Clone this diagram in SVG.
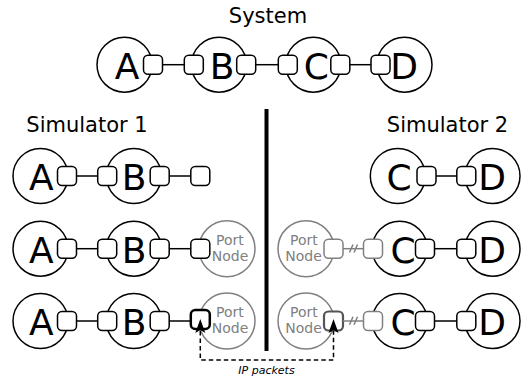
<svg xmlns="http://www.w3.org/2000/svg" width="522" height="379" viewBox="0 0 522 379">
<style>
text{font-family:"DejaVu Sans","Liberation Sans",sans-serif;}
.title{font-size:21px;fill:#000;text-anchor:middle;}
.node{fill:#fff;stroke:#000;stroke-width:1.5;}
.let{font-size:36px;fill:#000;text-anchor:middle;}
.pn{fill:#fff;stroke:#808080;stroke-width:1.5;}
.pnt{font-size:14px;fill:#808080;text-anchor:middle;}
.port{fill:#fff;stroke:#000;stroke-width:1.5;}
.gport{fill:#fff;stroke:#808080;stroke-width:1.5;}
.sel{fill:#fff;stroke:#000;stroke-width:2.5;}
.dsel{fill:#fff;stroke:#555;stroke-width:2.2;}
.w{stroke:#000;stroke-width:1.5;fill:none;}
.gw{stroke:#808080;stroke-width:1.5;fill:none;}
.dash{stroke:#000;stroke-width:1.5;fill:none;stroke-dasharray:4.5,3;}
.lbl{font-size:11px;font-style:italic;fill:#000;text-anchor:middle;}
</style>
<defs>
<rect id="p" x="-9.5" y="-9.5" width="19" height="19" rx="4.5"/>
<marker id="ah" viewBox="-1 -6 16 12" refX="2" refY="0" markerWidth="16" markerHeight="12" markerUnits="userSpaceOnUse" orient="auto-start-reverse">
<path d="M0,-5 L14,0 L0,5 L3,0 Z" fill="#000"/>
</marker>
</defs>

<text class="title" x="268" y="23">System</text>
<text class="title" x="87" y="132">Simulator 1</text>
<text class="title" x="447.5" y="132">Simulator 2</text>

<line x1="266.5" y1="109" x2="266.5" y2="351" stroke="#000" stroke-width="4"/>

<!-- System row -->
<g id="sys-A"><circle class="node" cx="124.5" cy="64.7" r="27.5"/><text class="let" x="127" y="79">A</text><use href="#p" class="port" x="153" y="64.7"/></g>
<g id="sys-B"><circle class="node" cx="219" cy="64.7" r="27.5"/><text class="let" x="222" y="79">B</text><use href="#p" class="port" x="193.8" y="64.7"/><use href="#p" class="port" x="246.2" y="64.7"/></g>
<g id="sys-C"><circle class="node" cx="313.3" cy="64.7" r="27.5"/><text class="let" x="316.3" y="79">C</text><use href="#p" class="port" x="287.8" y="64.7"/><use href="#p" class="port" x="340.3" y="64.7"/></g>
<g id="sys-D"><circle class="node" cx="404.5" cy="64.7" r="27.5"/><text class="let" x="404" y="79">D</text><use href="#p" class="port" x="380.5" y="64.7"/></g>

<!-- Simulator 1 row 1 -->
<g id="s1r1-A"><circle class="node" cx="40.5" cy="176" r="27.5"/><text class="let" x="41.3" y="190.3">A</text><use href="#p" class="port" x="67" y="176"/></g>
<g id="s1r1-B"><circle class="node" cx="133.8" cy="176" r="27.5"/><text class="let" x="134" y="190.3">B</text><use href="#p" class="port" x="107.2" y="176"/><use href="#p" class="port" x="159.7" y="176"/></g>
<g id="s1r1-port"><use href="#p" class="port" x="200.3" y="176"/></g>

<!-- Simulator 1 row 2 -->
<g id="s1r2-A"><circle class="node" cx="40.5" cy="248.7" r="27.5"/><text class="let" x="41.3" y="263">A</text><use href="#p" class="port" x="67" y="248.7"/></g>
<g id="s1r2-B"><circle class="node" cx="133.8" cy="248.7" r="27.5"/><text class="let" x="134" y="263">B</text><use href="#p" class="port" x="107.2" y="248.7"/><use href="#p" class="port" x="159.7" y="248.7"/></g>
<g id="s1r2-portnode"><circle class="pn" cx="227" cy="248.7" r="28"/><text class="pnt" x="230" y="245">Port</text><text class="pnt" x="230" y="260.5">Node</text><use href="#p" class="port" x="200.3" y="248.7"/></g>

<!-- Simulator 1 row 3 -->
<g id="s1r3-A"><circle class="node" cx="40.5" cy="321" r="27.5"/><text class="let" x="41.3" y="335.3">A</text><use href="#p" class="port" x="67" y="321"/></g>
<g id="s1r3-B"><circle class="node" cx="133.8" cy="321" r="27.5"/><text class="let" x="134" y="335.3">B</text><use href="#p" class="port" x="107.2" y="321"/><use href="#p" class="port" x="159.7" y="321"/></g>
<g id="s1r3-portnode"><circle class="pn" cx="227" cy="321" r="28"/><text class="pnt" x="230" y="317.3">Port</text><text class="pnt" x="230" y="332.8">Node</text><use href="#p" class="sel" x="200.3" y="319.5"/></g>

<!-- Simulator 2 row 1 -->
<g id="s2r1-C"><circle class="node" cx="397.8" cy="176" r="27.5"/><text class="let" x="399" y="190.3">C</text><use href="#p" class="port" x="426.5" y="176"/></g>
<g id="s2r1-D"><circle class="node" cx="492.5" cy="176" r="27.5"/><text class="let" x="492" y="190.3">D</text><use href="#p" class="port" x="466.3" y="176"/></g>

<!-- Simulator 2 row 2 -->
<g id="s2r2-portnode"><circle class="pn" cx="306" cy="248.7" r="28"/><text class="pnt" x="304" y="245">Port</text><text class="pnt" x="303.5" y="260.5">Node</text><use href="#p" class="gport" x="333.5" y="248.7"/></g>
<g id="s2r2-C"><circle class="node" cx="399.7" cy="248.7" r="27.5"/><use href="#p" class="gport" x="373" y="248.7"/><text class="let" x="403" y="263">C</text><use href="#p" class="port" x="425" y="248.7"/></g>
<g id="s2r2-D"><circle class="node" cx="492.5" cy="248.7" r="27.5"/><text class="let" x="492" y="263">D</text><use href="#p" class="port" x="466.3" y="248.7"/></g>

<!-- Simulator 2 row 3 -->
<g id="s2r3-portnode"><circle class="pn" cx="306" cy="321" r="28"/><text class="pnt" x="304" y="317.3">Port</text><text class="pnt" x="303.5" y="332.8">Node</text><use href="#p" class="dsel" x="333.5" y="321"/></g>
<g id="s2r3-C"><circle class="node" cx="399.7" cy="321" r="27.5"/><use href="#p" class="gport" x="373" y="321"/><text class="let" x="403" y="335.3">C</text><use href="#p" class="port" x="425" y="321"/></g>
<g id="s2r3-D"><circle class="node" cx="492.5" cy="321" r="27.5"/><text class="let" x="492" y="335.3">D</text><use href="#p" class="port" x="466.3" y="321"/></g>

<g id="connectors">
<line class="w" x1="162.5" y1="64.7" x2="184" y2="64.7"/>
<line class="w" x1="256" y1="64.7" x2="278" y2="64.7"/>
<line class="w" x1="350" y1="64.7" x2="371" y2="64.7"/>
<line class="w" x1="76.5" y1="176" x2="97.7" y2="176"/>
<line class="w" x1="169.2" y1="176" x2="190.8" y2="176"/>
<line class="w" x1="76.5" y1="248.7" x2="97.7" y2="248.7"/>
<line class="w" x1="169.2" y1="248.7" x2="190.8" y2="248.7"/>
<line class="w" x1="76.5" y1="321" x2="97.7" y2="321"/>
<line class="w" x1="169.2" y1="321" x2="190.8" y2="321"/>
<line class="w" x1="436" y1="176" x2="456.8" y2="176"/>
<line class="gw" x1="343" y1="248.7" x2="363.5" y2="248.7"/>
<path class="gw" d="M349.5,252.5 L353,244.5 M354,252.5 L357.5,244.5"/>
<line class="w" x1="434.5" y1="248.7" x2="456.8" y2="248.7"/>
<line class="gw" x1="343" y1="321" x2="363.5" y2="321"/>
<path class="gw" d="M349.5,324.8 L353,316.8 M354,324.8 L357.5,316.8"/>
<line class="w" x1="434.5" y1="321" x2="456.8" y2="321"/>
<path class="dash" d="M200.3,331 V360 H333.5 V331" marker-start="url(#ah)" marker-end="url(#ah)"/>
<text class="lbl" x="266.5" y="374">IP packets</text>
</g>
</svg>
